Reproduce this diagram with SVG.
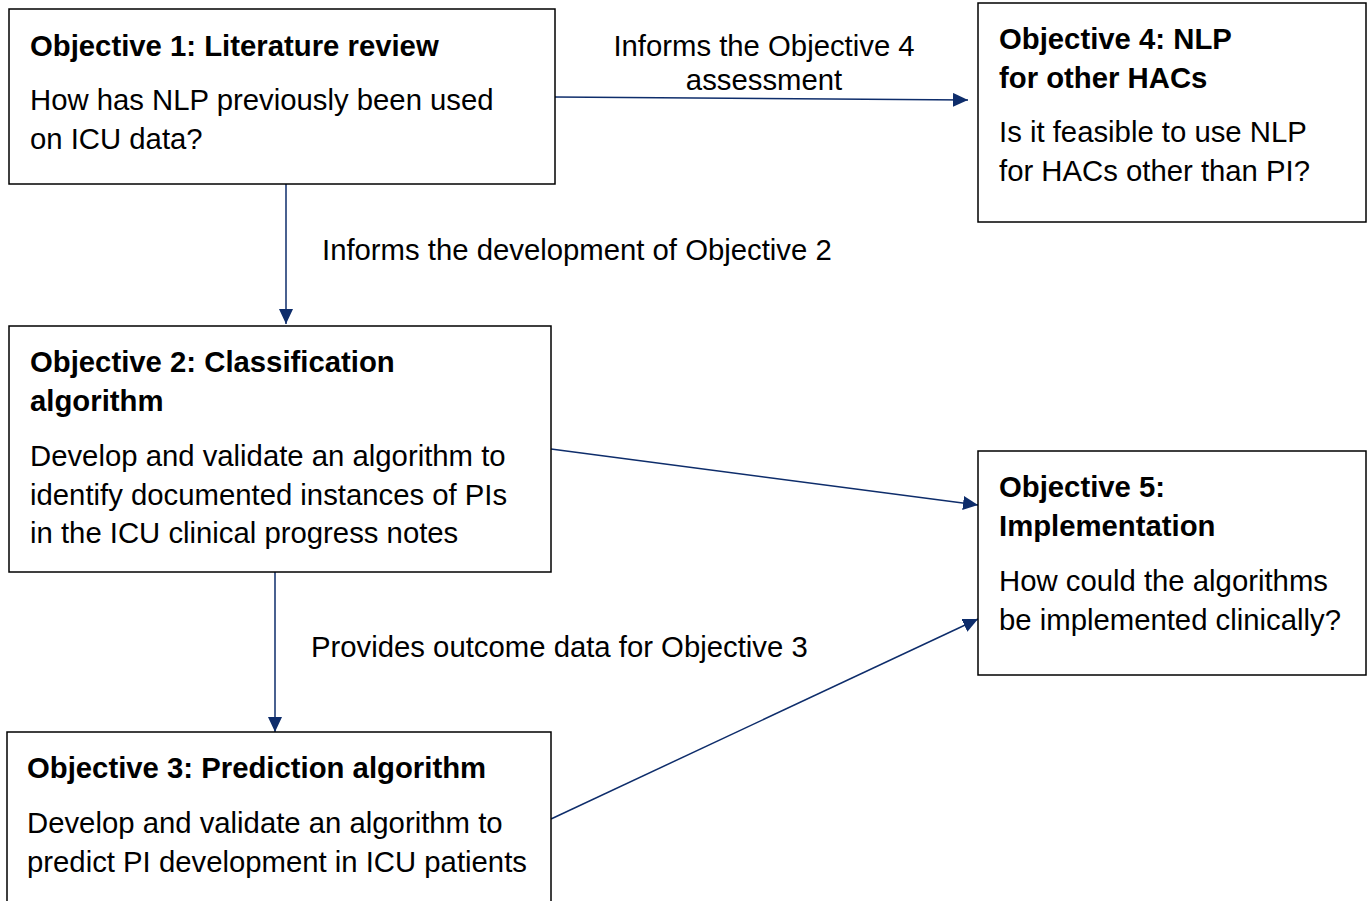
<svg xmlns="http://www.w3.org/2000/svg" width="1370" height="901" viewBox="0 0 1370 901">
<style>
.box{fill:#fff;stroke:#000;stroke-width:1.5}
.t{font-family:"Liberation Sans",Arial,sans-serif;font-size:29.3px;fill:#000}
.b{font-weight:bold}
.c{stroke:#0e2d6b;stroke-width:1.5;fill:none;marker-end:url(#ah)}
</style>
<defs>
<marker id="ah" viewBox="0 0 10 10" refX="10" refY="5" markerWidth="15" markerHeight="14" markerUnits="userSpaceOnUse" orient="auto" preserveAspectRatio="none">
<path d="M0,0 L10,5 L0,10 z" fill="#0e2d6b"/>
</marker>
</defs>
<rect width="1370" height="901" fill="#fff"/>
<g id="connectors">
<line class="c" x1="555" y1="97" x2="968" y2="100"/>
<line class="c" x1="286" y1="184" x2="286" y2="324"/>
<line class="c" x1="551" y1="449" x2="978" y2="505"/>
<line class="c" x1="275" y1="572" x2="275" y2="732"/>
<line class="c" x1="551" y1="819" x2="978" y2="619"/>
<text class="t" x="764" y="56" text-anchor="middle">Informs the Objective 4</text>
<text class="t" x="764" y="90" text-anchor="middle">assessment</text>
<text class="t" x="322" y="260">Informs the development of Objective 2</text>
<text class="t" x="311" y="657">Provides outcome data for Objective 3</text>
</g>
<g id="obj1">
<rect class="box" x="9" y="9" width="546" height="175"/>
<text class="t b" x="30" y="56">Objective 1: Literature review</text>
<text class="t" x="30" y="110">How has NLP previously been used</text>
<text class="t" x="30" y="149">on ICU data?</text>
</g>
<g id="obj4">
<rect class="box" x="978" y="3" width="388" height="219"/>
<text class="t b" x="999" y="49">Objective 4: NLP</text>
<text class="t b" x="999" y="88">for other HACs</text>
<text class="t" x="999" y="142">Is it feasible to use NLP</text>
<text class="t" x="999" y="181">for HACs other than PI?</text>
</g>
<g id="obj2">
<rect class="box" x="9" y="326" width="542" height="246"/>
<text class="t b" x="30" y="372">Objective 2: Classification</text>
<text class="t b" x="30" y="411">algorithm</text>
<text class="t" x="30" y="466">Develop and validate an algorithm to</text>
<text class="t" x="30" y="505">identify documented instances of PIs</text>
<text class="t" x="30" y="543">in the ICU clinical progress notes</text>
</g>
<g id="obj5">
<rect class="box" x="978" y="451" width="388" height="224"/>
<text class="t b" x="999" y="497">Objective 5:</text>
<text class="t b" x="999" y="536">Implementation</text>
<text class="t" x="999" y="591">How could the algorithms</text>
<text class="t" x="999" y="630">be implemented clinically?</text>
</g>
<g id="obj3">
<rect class="box" x="7" y="732" width="544" height="180"/>
<text class="t b" x="27" y="778">Objective 3: Prediction algorithm</text>
<text class="t" x="27" y="833">Develop and validate an algorithm to</text>
<text class="t" x="27" y="872">predict PI development in ICU patients</text>
</g>
</svg>
